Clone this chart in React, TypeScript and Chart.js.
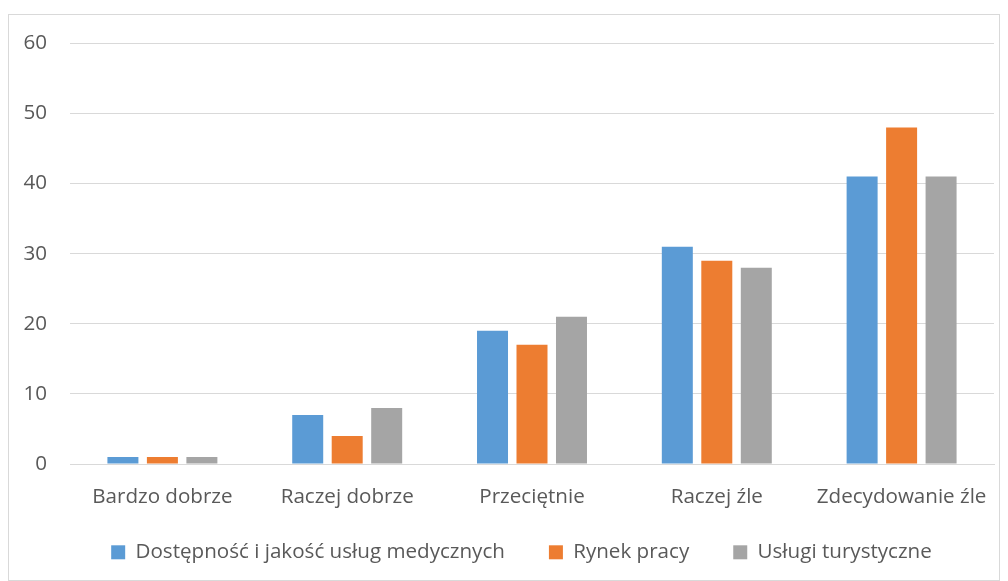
import React, { useEffect, useRef } from "react";
import { Chart, registerables } from "chart.js";

Chart.register(...registerables);

const categories = ["Bardzo dobrze", "Raczej dobrze", "Przeciętnie", "Raczej źle", "Zdecydowanie źle"];
const seriesNames = ["Dostępność i jakość usług medycznych", "Rynek pracy", "Usługi turystyczne"];
const medical = [1, 7, 19, 31, 41];
const labour = [1, 4, 17, 29, 48];
const tourism = [1, 8, 21, 28, 41];
const colors = ["#5B9BD5", "#ED7D31", "#A5A5A5"];

const FONT = "'Open Sans', 'DejaVu Sans', sans-serif";
const FONT_SIZE = 20.6;
const LEGEND_PAD = 44;
const LEGEND_TOP = 490;
const LEGEND_SHIFT = 40;

export default function App() {
  const ref = useRef<HTMLCanvasElement | null>(null);

  useEffect(() => {
    if (!ref.current) return;
    const legendFix = {
      id: "legendFix",
      beforeInit(chart: any) {
        const lg = chart.legend;
        if (lg) {
          const orig = lg.fit;
          lg.fit = function () {
            orig.call(this);
            this.height = 60;
          };
        }
      },
      afterLayout(chart: any) {
        const lg = chart.legend;
        if (lg) {
          lg.top = LEGEND_TOP;
          lg.bottom = chart.height;
          lg.height = chart.height - LEGEND_TOP;
          lg.left = lg.left + LEGEND_SHIFT;
          lg.width = lg.right - lg.left;
        }
      },
    };
    const chart = new Chart(ref.current, {
      type: "bar",
      data: {
        labels: categories,
        datasets: [medical, labour, tourism].map((d, i) => ({
          label: seriesNames[i],
          data: d,
          backgroundColor: colors[i],
          borderWidth: 0,
          categoryPercentage: 0.641,
          barPercentage: 0.785,
        })),
      },
      options: {
        animation: false,
        responsive: false,
        maintainAspectRatio: false,
        layout: { padding: { top: 21, left: 0, right: 5, bottom: 0 } },
        scales: {
          x: {
            grid: { display: false, drawTicks: false },
            border: { display: true, color: "#d9d9d9", width: 1 },
            ticks: { color: "#595959", font: { family: FONT, size: FONT_SIZE }, padding: 21, maxRotation: 0 },
            afterFit(scale: any) {
              scale.height = 56;
              scale.paddingLeft = 0;
              scale.paddingRight = 0;
            },
          },
          y: {
            min: 0,
            max: 60,
            ticks: { stepSize: 10, color: "#595959", font: { family: FONT, size: FONT_SIZE }, padding: 23 },
            grid: { color: "#d9d9d9", lineWidth: 1, drawTicks: false },
            border: { display: false },
            afterFit(scale: any) {
              scale.width = 61;
            },
          },
        },
        plugins: {
          tooltip: { enabled: false },
          legend: {
            position: "bottom",
            labels: {
              color: "#595959",
              font: { family: FONT, size: FONT_SIZE },
              boxWidth: 14,
              boxHeight: 14,
              padding: LEGEND_PAD,
            },
          },
        },
      },
      plugins: [legendFix],
    } as any);
    return () => chart.destroy();
  }, []);

  return (
    <div
      style={{
        position: "absolute",
        left: 8,
        top: 14,
        width: 992,
        height: 567,
        border: "1px solid #d9d9d9",
        boxSizing: "border-box",
        background: "#fff",
      }}
    >
      <canvas
        ref={ref}
        width={990}
        height={572}
        style={{ display: "block", position: "absolute", left: 0, top: -7 }}
      />
    </div>
  );
}
